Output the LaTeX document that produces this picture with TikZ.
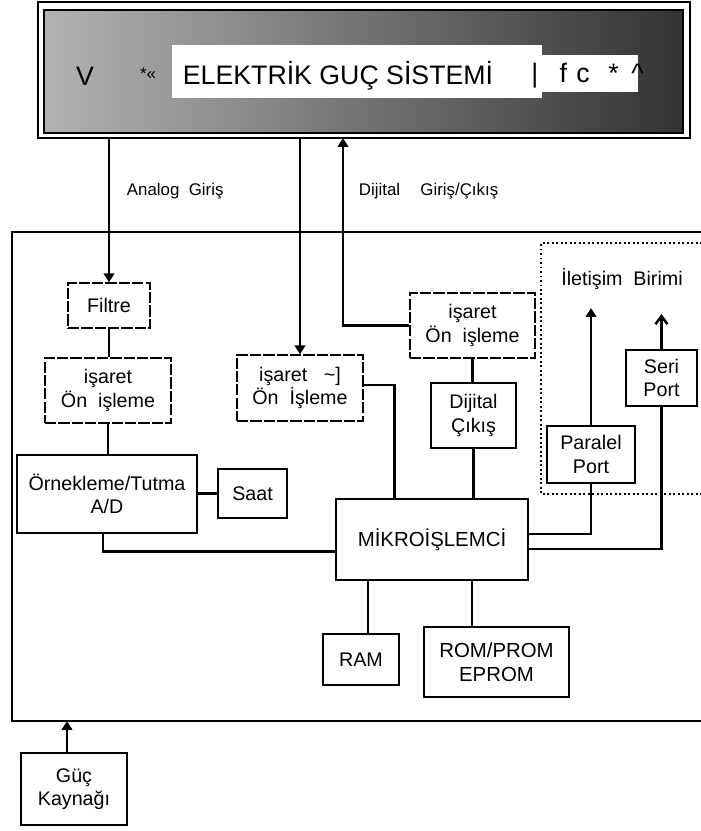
\documentclass[tikz,border=0pt]{standalone}
\usepackage{fontspec}
\setmainfont{Liberation Sans}
\usetikzlibrary{arrows.meta,positioning,calc}

\begin{document}
\begin{tikzpicture}[x=0.025cm, y=-0.025cm,
  blk/.style={rectangle, draw, line width=1.8pt, align=center, inner sep=0pt,
    font=\fontsize{14}{16.5}\selectfont},
  ince/.style={blk, line width=1pt, dash pattern=on 8pt off 1.5pt},
  ln/.style={line width=1.8pt},
  arr/.style={-{Triangle[length=2.2mm, width=2.6mm]}, line width=1.8pt},
  lbl/.style={font=\fontsize{12}{14}\selectfont}
]
  \useasboundingbox (0,0) rectangle (700,831);

  % elektrik guc sistemi
  \node[draw, line width=1.2pt, minimum width=16.3cm, minimum height=3.4cm] (sistem) at (364,70) {};
  \shade[left color=black!30, right color=black!80, draw, line width=2pt] (44,10) rectangle (683,133);
  \fill[white] (172,45) rectangle (542,98);
  \fill[white] (542,55) rectangle (638,92);
  \node[font=\fontsize{19}{22}\selectfont] (baslik) at (338,76) {ELEKTRİK GUÇ SİSTEMİ};
  \node[font=\fontsize{19}{22}\selectfont] (vharf) at (85,76) {V};
  \node[font=\fontsize{12}{14}\selectfont] (isaretler) at (148,74) {*«};
  \node[font=\fontsize{19}{22}\selectfont, anchor=west, inner sep=0pt] (ekler) at (531,76)
    {\textbar\hspace{0.8em}f\hspace{0.35em}c\hspace{0.7em}*\hspace{0.47em}\textasciicircum};

  \node[lbl, anchor=west] (analog) at (122,191) {Analog\ \ Giriş};
  \node[lbl, anchor=west] (dijital) at (354,191) {Dijital\hspace{1.2em}Giriş/Çıkış};

  % ana cerceve
  \draw[ln] (702,232) -- (12,232) -- (12,721) -- (702,721);
  \coordinate (altkenar) at (12,721);

  % iletisim birimi
  \draw[dotted, line width=1.2pt] (702,243) -- (541,243) -- (541,494) -- (702,494);
  \node[font=\fontsize{14}{16}\selectfont] (iletisim) at (622,279) {İletişim\ \ Birimi};

  % bloklar
  \node[ince, minimum width=2.05cm, minimum height=1.125cm] (filtre) at (109,305.5) {Filtre};
  \node[ince, minimum width=3.15cm, minimum height=1.625cm] (isaret1) at (108,390.5) {işaret\\Ön\ \ işleme};
  \node[blk, minimum width=4.5cm, minimum height=1.95cm] (ornek) at (107,494) {Örnekleme/Tutma\\A/D};
  \node[blk, minimum width=1.725cm, minimum height=1.225cm] (saat) at (252.5,493.5) {Saat};
  \node[ince, minimum width=3.15cm, minimum height=1.65cm] (isaret2) at (300,388) {işaret\ \ \ \textasciitilde]\\Ön\ \ İşleme};
  \node[ince, minimum width=3.125cm, minimum height=1.625cm] (isaret3) at (472.5,325.5) {işaret\\Ön\ \ işleme};
  \node[blk, minimum width=2.125cm, minimum height=1.625cm] (dijcikis) at (473.5,415.5) {Dijital\\Çıkış};
  \node[blk, minimum width=4.8cm, minimum height=2.025cm, font=\fontsize{14.5}{17}\selectfont] (mikro) at (432,539.5) {MİKROİŞLEMCİ};
  \node[blk, minimum width=1.9cm, minimum height=1.275cm] (ram) at (361,659.5) {RAM};
  \node[blk, minimum width=3.625cm, minimum height=1.75cm, font=\fontsize{14.5}{17}\selectfont] (rom) at (496.5,662) {ROM/PROM\\EPROM};
  \node[blk, minimum width=2.2cm, minimum height=1.425cm] (paralel) at (591,454.5) {Paralel\\Port};
  \node[blk, minimum width=1.775cm, minimum height=1.4cm] (seri) at (661.5,378) {Seri\\Port};
  \node[blk, minimum width=2.65cm, minimum height=1.8cm] (guc) at (74,789) {Güç\\Kaynağı};

  % baglantilar
  \draw[arr] (filtre.north |- sistem.south) -- (filtre.north);
  \draw[ln] (filtre.south) -- (filtre.south |- isaret1.north);
  \draw[ln] (isaret1.south) -- (isaret1.south |- ornek.north);
  \draw[ln] (ornek.east |- saat.west) -- (saat.west);
  \draw[ln] ($(ornek.south)+(-4,0)$) |- ([yshift=-0.3cm]mikro.west);
  \draw[arr] (isaret2.north |- sistem.south) -- (isaret2.north);
  \draw[ln] ([yshift=0.075cm]isaret2.east) -| ($(mikro.north west)+(60,0)$);
  \coordinate (djust) at (343,138);
  \draw[arr] (isaret3.west) -| (djust);
  \draw[ln] (isaret3.south) -- (isaret3.south |- dijcikis.north);
  \draw[ln] (dijcikis.south) -- (dijcikis.south |- mikro.north);
  \draw[ln] ([yshift=0.14cm]mikro.east) -| (paralel.south);
  \coordinate (pucu) at (591,308);
  \draw[arr] (paralel.north) -- (pucu);
  \draw[ln] ([yshift=-0.24cm]mikro.east) -| (seri.south);
  \coordinate (sucu) at (661.5,314);
  \draw[ln, -{Straight Barb[length=2mm, width=3mm]}] (seri.north) -- (sucu);
  \draw[ln] ($(ram.north)+(7,0)$) -- ($(ram.north |- mikro.south)+(7,0)$);
  \draw[ln] ($(rom.north)+(-24.5,0)$) -- ($(rom.north |- mikro.south)+(-24.5,0)$);
  \draw[arr] ($(guc.north)+(-7,0)$) -- ($(guc.north |- altkenar)+(-7,0)$);
\end{tikzpicture}
\end{document}
